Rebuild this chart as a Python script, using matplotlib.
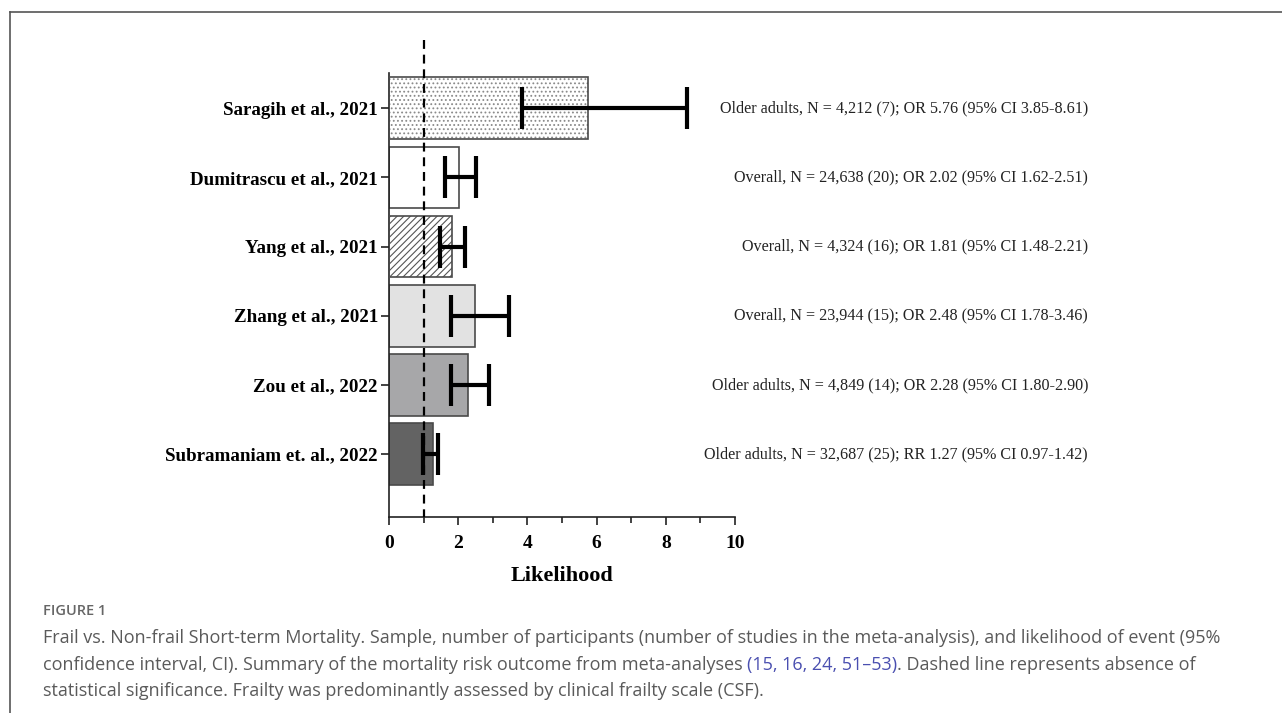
import matplotlib
matplotlib.use('Agg')
import matplotlib.pyplot as plt
import matplotlib.transforms as mtransforms
from matplotlib.lines import Line2D
from matplotlib.ticker import MultipleLocator

studies = ['Saragih et al., 2021', 'Dumitrascu et al., 2021', 'Yang et al., 2021',
           'Zhang et al., 2021', 'Zou et al., 2022', 'Subramaniam et. al., 2022']
estimate = [5.76, 2.02, 1.81, 2.48, 2.28, 1.27]
ci_low = [3.85, 1.62, 1.48, 1.78, 1.80, 0.97]
ci_high = [8.61, 2.51, 2.21, 3.46, 2.90, 1.42]
notes = ['Older adults, N = 4,212 (7); OR 5.76 (95% CI 3.85-8.61)',
         'Overall, N = 24,638 (20); OR 2.02 (95% CI 1.62-2.51)',
         'Overall, N = 4,324 (16); OR 1.81 (95% CI 1.48-2.21)',
         'Overall, N = 23,944 (15); OR 2.48 (95% CI 1.78-3.46)',
         'Older adults, N = 4,849 (14); OR 2.28 (95% CI 1.80-2.90)',
         'Older adults, N = 32,687 (25); RR 1.27 (95% CI 0.97-1.42)']

faces = ['white', 'white', 'white', '#e2e2e2', '#a7a7a9', '#636363']
hatches = ['....', None, '/////', None, None, None]
hatch_cols = ['#8a8a8a', None, '#555555', None, None, None]

SERIF = ['Liberation Serif', 'DejaVu Serif']
SANS = ['Open Sans', 'Noto Sans', 'DejaVu Sans']
CAP_GREY = '#5a5a5a'
LINK = '#4a4fb0'

plt.rcParams['hatch.linewidth'] = 0.8
fig = plt.figure(figsize=(12.82, 7.13), dpi=100)
W, H = 1282, 713

# outer frame (top and left edges only)
fig.add_artist(Line2D([10 / W, 10 / W], [0, 1 - 12 / H], color='#555555', lw=1.2))
fig.add_artist(Line2D([10 / W, 1], [1 - 12 / H, 1 - 12 / H], color='#555555', lw=1.2))

ax = fig.add_axes([389 / W, 1 - 517 / H, 346 / W, 444 / H])
y = list(range(len(studies)))

for i in y:
    if hatches[i]:
        plt.rcParams['hatch.color'] = hatch_cols[i]
        ax.barh(i, estimate[i], height=0.89, color=faces[i], hatch=hatches[i],
                edgecolor=hatch_cols[i], linewidth=0, zorder=2)
        ax.barh(i, estimate[i], height=0.89, fill=False, edgecolor='#4a4a4a',
                linewidth=1.2, zorder=3)
    else:
        ax.barh(i, estimate[i], height=0.89, color=faces[i], edgecolor='#4a4a4a',
                linewidth=1.2, zorder=2)

xerr = [[e - lo for e, lo in zip(estimate, ci_low)],
        [hi - e for e, hi in zip(estimate, ci_high)]]
ax.errorbar(estimate, y, xerr=xerr, fmt='none', ecolor='black', elinewidth=3,
            capsize=15, capthick=3, zorder=5)

ax.plot([1, 1], [-0.98, 5.91], color='black', lw=1.6, dashes=(4, 2.6),
        clip_on=False, zorder=4)

ax.set_xlim(0, 10)
ax.set_ylim(5.91, -0.51)
ax.xaxis.set_major_locator(MultipleLocator(2))
ax.xaxis.set_minor_locator(MultipleLocator(1))
ax.set_yticks(y)
ax.set_yticklabels(studies, fontfamily=SERIF, fontweight='bold', fontsize=13.7)
for lab in ax.get_xticklabels():
    lab.set_fontfamily(SERIF)
    lab.set_fontweight('bold')
    lab.set_fontsize(14)
ax.tick_params(axis='both', which='major', length=6, width=1.2, color='#222222')
ax.tick_params(axis='x', which='minor', length=4, width=1.2, color='#222222')
ax.tick_params(axis='x', pad=7)
ax.tick_params(axis='y', pad=2)
for s in ['top', 'right']:
    ax.spines[s].set_visible(False)
for s in ['left', 'bottom']:
    ax.spines[s].set_linewidth(1.2)
    ax.spines[s].set_color('#222222')
ax.set_xlabel('Likelihood', fontfamily=SERIF, fontweight='bold', fontsize=16,
              labelpad=10)

tr = mtransforms.blended_transform_factory(fig.transFigure, ax.transData)
for i, note in enumerate(notes):
    ax.text(1088 / W, i, note, transform=tr, ha='right', va='center',
            fontfamily=SERIF, fontsize=11.6, color='#222222')

# caption
fig.text(43 / W, 1 - 611 / H, 'FIGURE 1', fontfamily=SANS, fontweight='semibold',
         fontsize=10.5, color='#666666', va='center')
line1 = ('Frail vs. Non-frail Short-term Mortality. Sample, number of participants '
         '(number of studies in the meta-analysis), and likelihood of event (95%')
line2 = ['confidence interval, CI). Summary of the mortality risk outcome from meta-analyses ',
         '(15, 16, 24, 51\u201353)', '. Dashed line represents absence of']
line3 = ('statistical significance. Frailty was predominantly assessed by clinical '
         'frailty scale (CSF).')
CAP_FS = 13
fig.text(43 / W, 1 - 638 / H, line1, fontfamily=SANS, fontsize=CAP_FS, color=CAP_GREY,
         va='center')
fig.text(43 / W, 1 - 691 / H, line3, fontfamily=SANS, fontsize=CAP_FS, color=CAP_GREY,
         va='center')

renderer = fig.canvas.get_renderer()
x0 = 43
for part, col in zip(line2, [CAP_GREY, LINK, CAP_GREY]):
    t = fig.text(x0 / W, 1 - 665 / H, part, fontfamily=SANS, fontsize=CAP_FS,
                 color=col, va='center')
    x0 = t.get_window_extent(renderer).x1

fig.savefig('out.png', dpi=100)
